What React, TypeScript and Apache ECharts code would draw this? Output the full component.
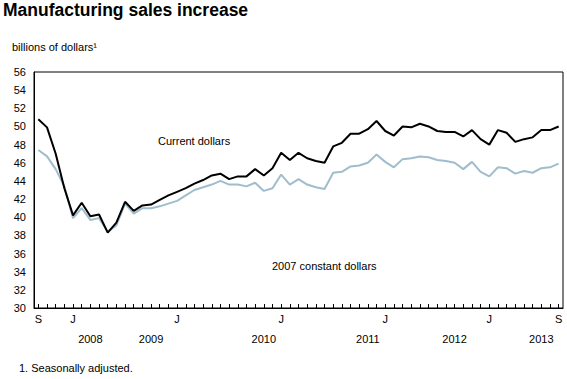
import React, { useEffect, useRef } from "react";
import * as echarts from "echarts";

const months = [
  "2008-09", "2008-10", "2008-11", "2008-12",
  "2009-01", "2009-02", "2009-03", "2009-04", "2009-05", "2009-06", "2009-07", "2009-08", "2009-09", "2009-10", "2009-11", "2009-12",
  "2010-01", "2010-02", "2010-03", "2010-04", "2010-05", "2010-06", "2010-07", "2010-08", "2010-09", "2010-10", "2010-11", "2010-12",
  "2011-01", "2011-02", "2011-03", "2011-04", "2011-05", "2011-06", "2011-07", "2011-08", "2011-09", "2011-10", "2011-11", "2011-12",
  "2012-01", "2012-02", "2012-03", "2012-04", "2012-05", "2012-06", "2012-07", "2012-08", "2012-09", "2012-10", "2012-11", "2012-12",
  "2013-01", "2013-02", "2013-03", "2013-04", "2013-05", "2013-06", "2013-07", "2013-08", "2013-09",
];

const currentDollars = [
  50.8, 49.9, 47.0, 43.2, 40.2, 41.6, 40.1, 40.3, 38.3, 39.4,
  41.7, 40.7, 41.3, 41.4, 41.9, 42.4, 42.8, 43.2, 43.7, 44.1,
  44.6, 44.8, 44.2, 44.5, 44.5, 45.3, 44.6, 45.4, 47.1, 46.3,
  47.1, 46.5, 46.2, 46.0, 47.8, 48.2, 49.2, 49.2, 49.7, 50.6,
  49.5, 49.0, 50.0, 49.9, 50.3, 50.0, 49.5, 49.4, 49.4, 48.9,
  49.6, 48.6, 48.0, 49.6, 49.3, 48.3, 48.6, 48.8, 49.6, 49.6, 50.0,
];

const constantDollars = [
  47.4, 46.7, 45.3, 43.4, 39.9, 41.0, 39.7, 39.9, 38.4, 39.1,
  41.5, 40.4, 41.0, 41.0, 41.2, 41.5, 41.8, 42.4, 43.0, 43.3,
  43.6, 44.0, 43.6, 43.6, 43.4, 43.8, 42.9, 43.2, 44.7, 43.6,
  44.2, 43.6, 43.3, 43.1, 44.9, 45.0, 45.6, 45.7, 46.0, 46.9,
  46.1, 45.5, 46.4, 46.5, 46.7, 46.6, 46.3, 46.2, 46.0, 45.3,
  46.1, 45.0, 44.5, 45.5, 45.4, 44.8, 45.1, 44.9, 45.4, 45.5, 45.9,
];

const monthTickLabels: Record<string, string> = {
  "2008-09": "S",
  "2009-01": "J",
  "2010-01": "J",
  "2011-01": "J",
  "2012-01": "J",
  "2013-01": "J",
  "2013-09": "S",
};

const yearLabels: Record<string, string> = {
  "2009-03": "2008",
  "2009-10": "2009",
  "2010-11": "2010",
  "2011-11": "2011",
  "2012-09": "2012",
  "2013-07": "2013",
};

const FONT = '"Liberation Sans", Arial, sans-serif';

export default function App() {
  const ref = useRef<HTMLDivElement>(null);
  useEffect(() => {
    if (!ref.current) return;
    const chart = echarts.init(ref.current, undefined, { renderer: "svg" });
    chart.setOption({
      animation: false,
      backgroundColor: "#fff",
      textStyle: { fontFamily: FONT },
      grid: {
        left: 34,
        top: 72,
        width: 529,
        height: 236,
        show: true,
        borderColor: "#000",
        borderWidth: 1,
        backgroundColor: "transparent",
      },
      xAxis: [
        {
          type: "category",
          data: months,
          boundaryGap: true,
          axisLine: { show: true, lineStyle: { color: "#000", width: 1 } },
          axisTick: {
            show: true,
            inside: true,
            length: 4,
            interval: 0,
            alignWithLabel: true,
            lineStyle: { color: "#000" },
          },
          axisLabel: {
            interval: 0,
            margin: 5,
            color: "#000",
            fontSize: 11,
            fontFamily: FONT,
            formatter: (v: string) => monthTickLabels[v] || "",
          },
          splitLine: { show: false },
        },
        {
          type: "category",
          data: months,
          position: "bottom",
          offset: 20,
          boundaryGap: true,
          axisLine: { show: false },
          axisTick: { show: false },
          axisLabel: {
            interval: 0,
            margin: 5,
            color: "#000",
            fontSize: 11,
            fontFamily: FONT,
            formatter: (v: string) => yearLabels[v] || "",
          },
          splitLine: { show: false },
        },
      ],
      yAxis: {
        type: "value",
        min: 30,
        max: 56,
        interval: 2,
        axisLine: { show: true, lineStyle: { color: "#000", width: 1 } },
        axisTick: { show: false },
        splitLine: { show: false },
        axisLabel: { color: "#000", fontSize: 11, margin: 8, fontFamily: FONT },
      },
      series: [
        {
          name: "2007 constant dollars",
          type: "line",
          data: constantDollars,
          symbol: "none",
          lineStyle: { color: "#a0bdcc", width: 2 },
          z: 2,
        },
        {
          name: "Current dollars",
          type: "line",
          data: currentDollars,
          symbol: "none",
          lineStyle: { color: "#000", width: 2 },
          z: 3,
        },
      ],
      graphic: [
        {
          type: "text",
          left: 3,
          top: 1,
          style: {
            text: "Manufacturing sales increase",
            fontSize: 17.5,
            fontWeight: "bold",
            fontFamily: FONT,
            fill: "#000",
          },
        },
        {
          type: "text",
          x: 12,
          y: 47,
          style: {
            text: "billions of dollars\u00b9",
            fontSize: 11,
            fontFamily: FONT,
            fill: "#000",
            verticalAlign: "middle",
          },
        },
        {
          type: "text",
          x: 158,
          y: 141,
          style: {
            text: "Current dollars",
            fontSize: 11,
            fontFamily: FONT,
            fill: "#000",
            verticalAlign: "middle",
          },
        },
        {
          type: "text",
          x: 272,
          y: 266,
          style: {
            text: "2007 constant dollars",
            fontSize: 11,
            fontFamily: FONT,
            fill: "#000",
            verticalAlign: "middle",
          },
        },
        {
          type: "text",
          x: 19,
          y: 368,
          style: {
            text: "1. Seasonally adjusted.",
            fontSize: 11,
            fontFamily: FONT,
            fill: "#000",
            verticalAlign: "middle",
          },
        },
      ],
    });
    return () => chart.dispose();
  }, []);
  return (
    <div
      ref={ref}
      style={{ position: "absolute", left: 0, top: 0, width: 567, height: 379, background: "#fff" }}
    />
  );
}
